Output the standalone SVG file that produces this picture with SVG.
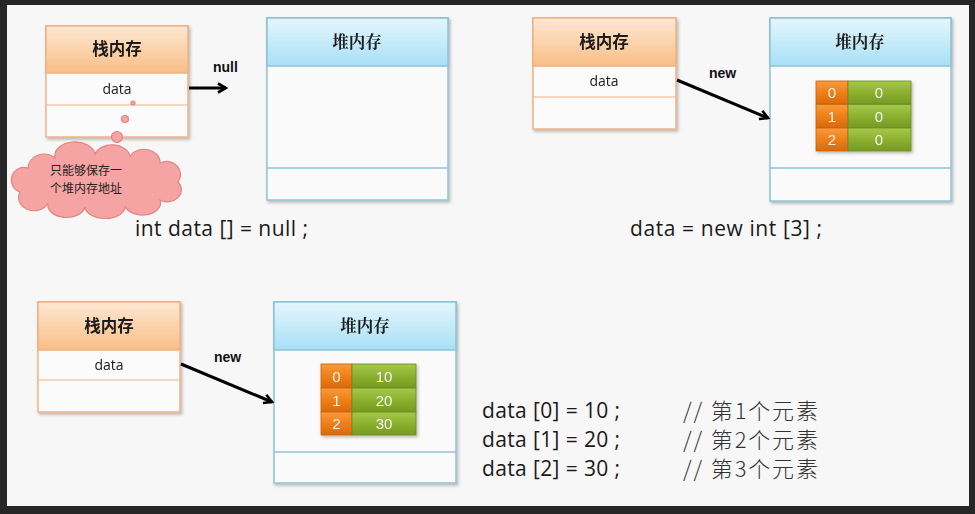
<svg xmlns="http://www.w3.org/2000/svg" width="975" height="514" viewBox="0 0 975 514">
<defs>
<linearGradient id="gStack" x1="0" y1="0" x2="0" y2="1">
<stop offset="0" stop-color="#fde8d2"/><stop offset="1" stop-color="#f9be86"/>
</linearGradient>
<linearGradient id="gHeap" x1="0" y1="0" x2="0" y2="1">
<stop offset="0" stop-color="#e4f6fd"/><stop offset="1" stop-color="#a8e0f6"/>
</linearGradient>
<linearGradient id="gOr" x1="0" y1="0" x2="0" y2="1">
<stop offset="0" stop-color="#f99b3c"/><stop offset="0.5" stop-color="#f07f17"/><stop offset="1" stop-color="#d96a0a"/>
</linearGradient>
<linearGradient id="gGr" x1="0" y1="0" x2="0" y2="1">
<stop offset="0" stop-color="#a6c94a"/><stop offset="0.5" stop-color="#8cb030"/><stop offset="1" stop-color="#769a22"/>
</linearGradient>
<filter id="sh" x="-10%" y="-10%" width="125%" height="125%">
<feDropShadow dx="1.5" dy="2" stdDeviation="1.5" flood-color="#000" flood-opacity="0.25"/>
</filter>
<marker id="ah" viewBox="0 0 12 12" refX="10" refY="6" markerWidth="12" markerHeight="12" markerUnits="userSpaceOnUse" orient="auto">
<path d="M2 1.5 L10 6 L2 10.5" fill="none" stroke="#000" stroke-width="2.6" stroke-linejoin="miter"/>
</marker>
</defs>
<style>
.stk{fill:#fbfbfb;stroke:#f0b283;stroke-width:1.5}
.stkh{fill:url(#gStack);stroke:#f0b283;stroke-width:1.5}
.heap{fill:#fafafa;stroke:#8dc3d3;stroke-width:1.5}
.heaph{fill:url(#gHeap);stroke:#8dc3d3;stroke-width:1.5}
.sdiv{stroke:#f0b283;stroke-width:1.2}
.hdiv{stroke:#8dc3d3;stroke-width:1.5}
.ht{font-family:"Noto Sans CJK SC",sans-serif;font-weight:bold;font-size:16.5px;fill:#1a1a1a;text-anchor:middle}
.hh{font-family:"Noto Serif CJK SC","Noto Sans CJK SC",serif;font-weight:bold;font-size:16.5px;fill:#1a1a1a;text-anchor:middle}
.dt{font-family:"Open Sans","Liberation Sans",sans-serif;font-size:14px;fill:#1a1a1a;text-anchor:middle}
.lbl{font-family:"Liberation Sans",sans-serif;font-weight:bold;font-size:14px;fill:#111}
.code{font-family:"Open Sans","Liberation Sans",sans-serif;font-size:21px;fill:#1a1a1a}
.cm{font-family:"Noto Sans CJK SC",sans-serif;font-weight:300;font-size:22px;fill:#333}
.or{fill:url(#gOr);stroke:#c96008;stroke-width:0.8}
.gr{fill:url(#gGr);stroke:#6a8a1e;stroke-width:0.8}
.ct{font-family:"Liberation Sans",sans-serif;font-size:15px;fill:#f4f4f4;text-anchor:middle}
.conn{stroke:#000;stroke-width:3;fill:none;marker-end:url(#ah)}
.cloud{fill:#f5a3a3;stroke:#e08585;stroke-width:1.2}
.ctx{font-family:"Noto Sans CJK SC",sans-serif;font-size:12px;fill:#222}
</style>
<rect x="0" y="0" width="975" height="514" fill="#262626"/>
<rect x="7" y="5" width="962" height="501" fill="#f7f7f7"/>

<!-- Top-left stack -->
<g id="stack1" filter="url(#sh)">
<rect class="stk" x="46" y="26" width="142" height="111"/>
<rect class="stkh" x="46" y="26" width="142" height="47"/>
<line class="sdiv" x1="46" y1="105" x2="188" y2="105"/>
<text class="ht" x="117" y="55">栈内存</text>
<text class="dt" x="117" y="94">data</text>
</g>
<g id="heap1" filter="url(#sh)">
<rect class="heap" x="267" y="18" width="181" height="182"/>
<rect class="heaph" x="267" y="18" width="181" height="48"/>
<line class="hdiv" x1="267" y1="168" x2="448" y2="168"/>
<text class="hh" x="357" y="48">堆内存</text>
</g>
<g id="cloud">
<circle class="cloud" cx="133" cy="103" r="2"/>
<circle class="cloud" cx="125" cy="119" r="3.5"/>
<circle class="cloud" cx="117" cy="137" r="5.5"/>
<path class="cloud" d="M28 168 A16 14 0 0 1 55 158 A20 14 0 0 1 95 154 A18 13 0 0 1 130 156 A16 13 0 0 1 160 163 A14 13 0 0 1 178 182 A14 12 0 0 1 160 200 A18 12 0 0 1 125 206 A20 12 0 0 1 85 207 A18 12 0 0 1 48 203 A14 12 0 0 1 20 192 A12 12 0 0 1 28 168 Z"/>
<text class="ctx" x="50" y="175">只能够保存一</text>
<text class="ctx" x="50" y="193">个堆内存地址</text>
</g>
<text class="code" x="135" y="236" textLength="173" lengthAdjust="spacing">int data [] = null ;</text>

<!-- Top-right -->
<g id="stack2" filter="url(#sh)">
<rect class="stk" x="533" y="18" width="143" height="111"/>
<rect class="stkh" x="533" y="18" width="143" height="48"/>
<line class="sdiv" x1="533" y1="97" x2="676" y2="97"/>
<text class="ht" x="604" y="48">栈内存</text>
<text class="dt" x="604" y="86">data</text>
</g>
<g id="heap2" filter="url(#sh)">
<rect class="heap" x="770" y="18" width="181" height="183"/>
<rect class="heaph" x="770" y="18" width="181" height="48"/>
<line class="hdiv" x1="770" y1="168" x2="951" y2="168"/>
<text class="hh" x="860" y="48">堆内存</text>
</g>
<g id="array2" filter="url(#sh)">
<rect class="or" x="816" y="81" width="32" height="23"/>
<rect class="gr" x="848" y="81" width="63" height="23"/>
<rect class="or" x="816" y="104.5" width="32" height="23"/>
<rect class="gr" x="848" y="104.5" width="63" height="23"/>
<rect class="or" x="816" y="128" width="32" height="23"/>
<rect class="gr" x="848" y="128" width="63" height="23"/>
<text class="ct" x="832" y="98">0</text><text class="ct" x="879" y="98">0</text>
<text class="ct" x="832" y="121.5">1</text><text class="ct" x="879" y="121.5">0</text>
<text class="ct" x="832" y="145">2</text><text class="ct" x="879" y="145">0</text>
</g>
<text class="code" x="630" y="236" textLength="192" lengthAdjust="spacing">data = new int [3] ;</text>

<!-- Bottom -->
<g id="stack3" filter="url(#sh)">
<rect class="stk" x="38" y="302" width="142" height="110"/>
<rect class="stkh" x="38" y="302" width="142" height="48"/>
<line class="sdiv" x1="38" y1="380" x2="180" y2="380"/>
<text class="ht" x="109" y="332">栈内存</text>
<text class="dt" x="109" y="370">data</text>
</g>
<g id="heap3" filter="url(#sh)">
<rect class="heap" x="274" y="302" width="182" height="181"/>
<rect class="heaph" x="274" y="302" width="182" height="48"/>
<line class="hdiv" x1="274" y1="452" x2="456" y2="452"/>
<text class="hh" x="365" y="332">堆内存</text>
</g>
<g id="array3" filter="url(#sh)">
<rect class="or" x="321" y="364" width="31" height="24"/>
<rect class="gr" x="352" y="364" width="64" height="24"/>
<rect class="or" x="321" y="388" width="31" height="24"/>
<rect class="gr" x="352" y="388" width="64" height="24"/>
<rect class="or" x="321" y="412" width="31" height="23"/>
<rect class="gr" x="352" y="412" width="64" height="23"/>
<text class="ct" x="336.5" y="381.5">0</text><text class="ct" x="384" y="381.5">10</text>
<text class="ct" x="336.5" y="405.5">1</text><text class="ct" x="384" y="405.5">20</text>
<text class="ct" x="336.5" y="429">2</text><text class="ct" x="384" y="429">30</text>
</g>
<text class="code" x="482" y="418" textLength="138" lengthAdjust="spacing">data [0] = 10 ;</text>
<text class="code" x="482" y="447" textLength="138" lengthAdjust="spacing">data [1] = 20 ;</text>
<text class="code" x="482" y="476" textLength="138" lengthAdjust="spacing">data [2] = 30 ;</text>
<text class="cm" x="683" y="419" textLength="135" lengthAdjust="spacing">// 第1个元素</text>
<text class="cm" x="683" y="448" textLength="135" lengthAdjust="spacing">// 第2个元素</text>
<text class="cm" x="683" y="477" textLength="135" lengthAdjust="spacing">// 第3个元素</text>

<g id="connectors">
<line class="conn" x1="189" y1="88" x2="226" y2="88"/>
<text class="lbl" x="213" y="72">null</text>
<line class="conn" x1="677" y1="80" x2="768" y2="118"/>
<text class="lbl" x="709" y="78">new</text>
<line class="conn" x1="181" y1="364" x2="272" y2="402"/>
<text class="lbl" x="214" y="362">new</text>
</g>
</svg>
